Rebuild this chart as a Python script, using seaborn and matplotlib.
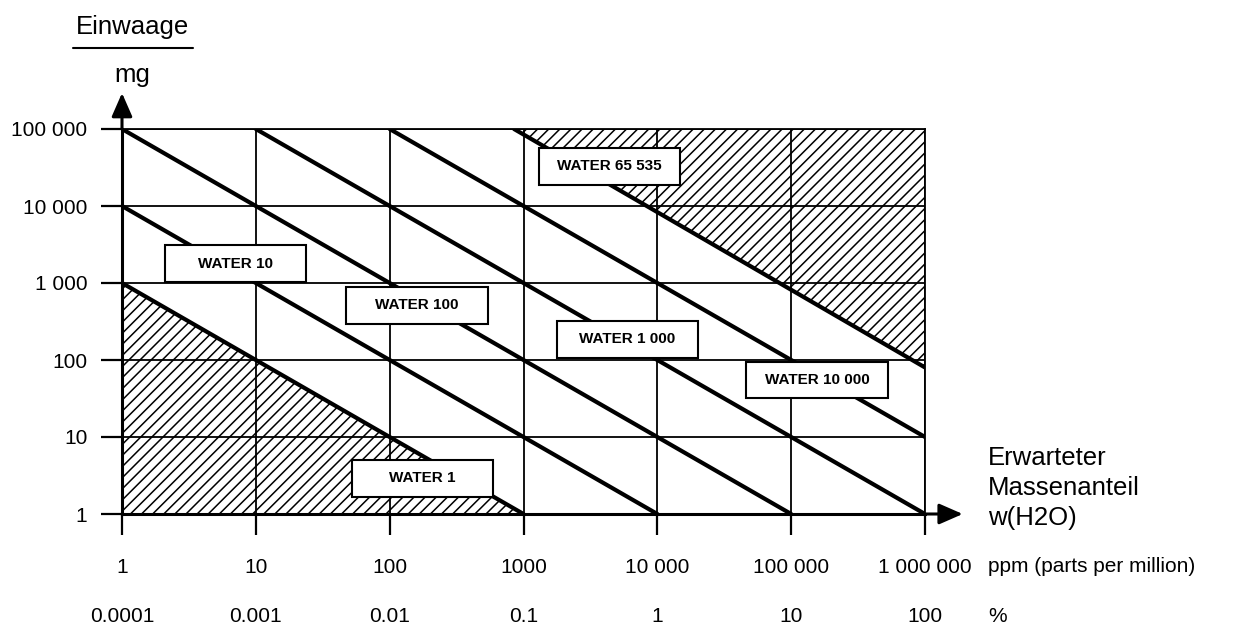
import pandas as pd
import matplotlib.pyplot as plt
import matplotlib.patches as mpatches
from matplotlib.lines import Line2D
from matplotlib.ticker import NullLocator
import seaborn as sns

#   --  WATER lines, endpoints (ppm, mg)
line_names = ["WATER 1", "WATER 10", "WATER 100", "WATER 1 000", "WATER 10 000", "WATER 65 535"]
ppm_start = [1, 1, 1, 10, 100, 850]
mg_start = [1000, 10000, 100000, 100000, 100000, 100000]
ppm_end = [1000, 10000, 100000, 1000000, 1000000, 1000000]
mg_end = [1, 1, 1, 1, 10, 80]

#   --  label box centres (ppm, mg)
box_ppm = [175, 7, 160, 5945, 156000, 4365]
box_mg = [2.93, 1790, 511, 187, 55, 32600]

ppm_ticks = [1, 10, 100, 1000, 10000, 100000, 1000000]
ppm_labels = ["1", "10", "100", "1000", "10 000", "100 000", "1 000 000"]
pct_labels = ["0.0001", "0.001", "0.01", "0.1", "1", "10", "100"]
mg_ticks = [1, 10, 100, 1000, 10000, 100000]
mg_labels = ["1", "10", "100", "1 000", "10 000", "100 000"]

rows = []
for i, name in enumerate(line_names):
    rows.append({"name": name, "ppm": ppm_start[i], "mg": mg_start[i]})
    rows.append({"name": name, "ppm": ppm_end[i], "mg": mg_end[i]})
df = pd.DataFrame(rows)

sns.set_style("white")
plt.rcParams["font.family"] = ["Liberation Sans", "DejaVu Sans"]
plt.rcParams["hatch.linewidth"] = 1.1
plt.rcParams["text.color"] = "black"
plt.rcParams["xtick.labelcolor"] = "black"
plt.rcParams["ytick.labelcolor"] = "black"

fig = plt.figure(figsize=(12.51, 6.28), dpi=100)
ax = fig.add_axes([122 / 1251, 1 - 514 / 628, 803 / 1251, 385 / 628])
ax.set_xscale("log")
ax.set_yscale("log")
ax.set_xlim(1, 1000000)
ax.set_ylim(1, 100000)

#   --  hatched regions
ax.fill([ppm_start[0], ppm_start[0], ppm_end[0]], [1, mg_start[0], mg_end[0]],
        facecolor="none", edgecolor="black", lw=0, hatch="///", zorder=2)
ax.fill([ppm_start[5], 1000000, ppm_end[5]], [mg_start[5], 100000, mg_end[5]],
        facecolor="none", edgecolor="black", lw=0, hatch="///", zorder=2)

#   --  the WATER lines
sns.lineplot(data=df, x="ppm", y="mg", units="name", estimator=None,
             color="black", lw=3, ax=ax, zorder=3, legend=False)

#   --  label boxes
hw, hh = 0.527, 0.24
for name, bx, by in zip(line_names, box_ppm, box_mg):
    rect = mpatches.Rectangle((bx / 10 ** hw, by / 10 ** hh),
                              bx * (10 ** hw - 10 ** -hw), by * (10 ** hh - 10 ** -hh),
                              facecolor="white", edgecolor="black", lw=1.5, zorder=4)
    ax.add_patch(rect)
    ax.text(bx, by, name, ha="center", va="center", fontsize=11,
            fontweight="bold", color="black", zorder=5)

#   --  grid / ticks / spines
ax.grid(True, which="major", color="black", lw=1.3)
ax.set_axisbelow(True)
ax.xaxis.set_minor_locator(NullLocator())
ax.yaxis.set_minor_locator(NullLocator())
ax.set_xticks(ppm_ticks)
ax.set_xticklabels(ppm_labels)
ax.set_yticks(mg_ticks)
ax.set_yticklabels(mg_labels)
ax.tick_params(axis="both", which="major", length=15, width=1.6, color="black",
               direction="out", labelsize=15, labelcolor="black", bottom=True, left=True)
ax.tick_params(axis="y", pad=10)
ax.tick_params(axis="x", pad=17)
ax.set_xlabel("")
ax.set_ylabel("")
for s in ["top", "right"]:
    ax.spines[s].set_linewidth(1.3)
for s in ["left", "bottom"]:
    ax.spines[s].set_linewidth(2.2)
for s in ax.spines.values():
    s.set_color("black")

#   --  axis arrows
arrow = dict(arrowstyle="-|>,head_length=0.8,head_width=0.35", color="black",
             lw=2.2, mutation_scale=18, shrinkA=0, shrinkB=0)
ax.annotate("", xy=(0, 1.0935), xytext=(0, 1), xycoords="axes fraction",
            arrowprops=arrow, annotation_clip=False)
ax.annotate("", xy=(1.047, 0), xytext=(1, 0), xycoords="axes fraction",
            arrowprops=arrow, annotation_clip=False)

#   --  second row: percent, and units
trans = ax.get_xaxis_transform()
for x, lab in zip(ppm_ticks, pct_labels):
    ax.text(x, -102 / 385, lab, transform=trans, ha="center", va="center", fontsize=15)
ax.text(1.0785, -53 / 385, "ppm (parts per million)", transform=ax.transAxes,
        ha="left", va="center", fontsize=15)
ax.text(1.0785, -102 / 385, "%", transform=ax.transAxes, ha="left", va="center", fontsize=15)
fig.text(988 / 1251, 1 - 488 / 628, "Erwarteter\nMassenanteil\nw(H2O)",
         ha="left", va="center", fontsize=18.5, linespacing=1.3)

#   --  y title
fig.text(132 / 1251, 1 - 27 / 628, "Einwaage", ha="center", va="center", fontsize=18.5)
fig.add_artist(Line2D([73 / 1251, 193 / 1251], [1 - 48 / 628, 1 - 48 / 628],
                      color="black", lw=1.5))
fig.text(132 / 1251, 1 - 75 / 628, "mg", ha="center", va="center", fontsize=18.5)

fig.savefig("out.png", dpi=100)
